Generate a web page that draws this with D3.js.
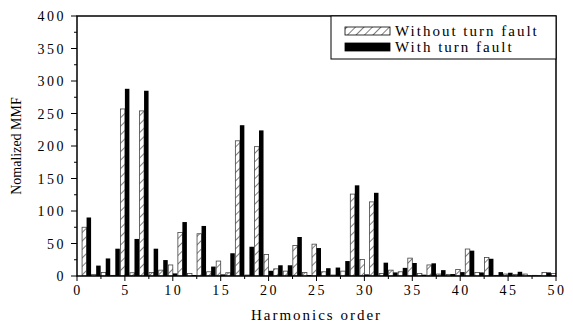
<!DOCTYPE html>
<html>
<head>
<meta charset="utf-8">
<script src="https://cdn.jsdelivr.net/npm/d3@7"></script>
<style>
  body { margin: 0; background: #fff; }
</style>
</head>
<body>
<div id="chart"></div>
<script>
// Harmonic orders 1..50
const harmonics = d3.range(1, 51);

// Normalized MMF without turn fault (hatched)
const withoutFault = [
  75, 2.5, 5.5, 1, 257, 5, 254, 5.5, 9, 17,
  67, 4, 65, 6.5, 23, 5, 208, 1.5, 199, 33,
  11, 7.5, 47, 5.5, 49, 6.5, 1.5, 7.5, 126, 25.5,
  114, 4, 9, 6.5, 27.5, 4, 17, 3, 2.5, 10,
  41.5, 5.5, 28.5, 1, 3, 2.5, 3, 1, 5.5, 4
];

// Normalized MMF with turn fault (black)
const withFault = [
  90, 16, 27, 42, 288, 57, 285, 42, 24.5, 4,
  83, 1.5, 77, 14.5, 2.5, 35, 232, 45, 224, 8,
  16.5, 16.5, 60, 1.5, 43, 12, 13, 23, 139.5, 2.5,
  128, 20.5, 5.5, 12.5, 20, 2, 19.5, 9, 3, 6,
  39, 5.5, 26.5, 6, 5, 6.5, 1, 1, 5.5, 0
];

const xTicks = d3.range(0, 51, 5);
const yTicks = d3.range(0, 401, 50);
const seriesNames = ["Without turn fault", "With turn fault"];

const width = 573, height = 325;
const mLeft = 77, mRight = 556, mTop = 16, mBottom = 276;
const barW = 0.47;

const svg = d3.select("#chart").append("svg")
  .attr("width", width)
  .attr("height", height)
  .style("font-family", "'Liberation Serif', 'Times New Roman', Times, serif");

const defs = svg.append("defs");
const pat = defs.append("pattern")
  .attr("id", "hatch")
  .attr("patternUnits", "userSpaceOnUse")
  .attr("width", 6)
  .attr("height", 6)
  .attr("patternTransform", "rotate(45)");
pat.append("rect").attr("width", 6).attr("height", 6).attr("fill", "#fff");
pat.append("line")
  .attr("x1", 0).attr("y1", 0).attr("x2", 0).attr("y2", 6)
  .attr("stroke", "#000").attr("stroke-width", 1);

defs.append("clipPath").attr("id", "plotClip")
  .append("rect")
  .attr("x", mLeft).attr("y", mTop)
  .attr("width", mRight - mLeft).attr("height", mBottom - mTop);

const x = d3.scaleLinear().domain([0, 50]).range([mLeft, mRight]);
const y = d3.scaleLinear().domain([0, 400]).range([mBottom, mTop]);

const data = harmonics.map((h, i) => ({ h, a: withoutFault[i], b: withFault[i] }));

// Bars
const bars = svg.append("g").attr("clip-path", "url(#plotClip)");
bars.selectAll("rect.a")
  .data(data)
  .join("rect")
  .attr("class", "a")
  .attr("x", d => x(d.h - barW))
  .attr("width", d => x(d.h) - x(d.h - barW))
  .attr("y", d => y(d.a))
  .attr("height", d => y(0) - y(d.a))
  .attr("fill", "url(#hatch)")
  .attr("stroke", "#444")
  .attr("stroke-width", 0.8);

bars.selectAll("rect.b")
  .data(data)
  .join("rect")
  .attr("class", "b")
  .attr("x", d => x(d.h))
  .attr("width", d => x(d.h + barW) - x(d.h))
  .attr("y", d => y(d.b))
  .attr("height", d => y(0) - y(d.b))
  .attr("fill", "#000");

// Axes
const xAxis = svg.append("g").attr("transform", `translate(0,${mBottom})`);
xAxis.selectAll("line.minor")
  .data(d3.range(2.5, 50, 5))
  .join("line")
  .attr("class", "minor")
  .attr("x1", d => x(d)).attr("x2", d => x(d))
  .attr("y1", 0).attr("y2", 3)
  .attr("stroke", "#000");
xAxis.selectAll("line.major")
  .data(xTicks)
  .join("line")
  .attr("class", "major")
  .attr("x1", d => x(d)).attr("x2", d => x(d))
  .attr("y1", 0).attr("y2", 5)
  .attr("stroke", "#000");
xAxis.selectAll("text.lbl")
  .data(xTicks)
  .join("text")
  .attr("class", "lbl")
  .attr("x", d => x(d) + 1)
  .attr("y", 19)
  .attr("text-anchor", "middle")
  .attr("font-size", 14)
  .attr("letter-spacing", 2.5)
  .text(d => d);

const yAxis = svg.append("g");
yAxis.selectAll("line.minor")
  .data(d3.range(25, 400, 50))
  .join("line")
  .attr("class", "minor")
  .attr("x1", mLeft - 3).attr("x2", mLeft)
  .attr("y1", d => y(d)).attr("y2", d => y(d))
  .attr("stroke", "#000");
yAxis.selectAll("line.major")
  .data(yTicks)
  .join("line")
  .attr("class", "major")
  .attr("x1", mLeft - 6).attr("x2", mLeft)
  .attr("y1", d => y(d)).attr("y2", d => y(d))
  .attr("stroke", "#000");
yAxis.selectAll("text")
  .data(yTicks)
  .join("text")
  .attr("x", mLeft - 11)
  .attr("y", d => y(d) + 5)
  .attr("text-anchor", "end")
  .attr("font-size", 14)
  .attr("letter-spacing", 2.5)
  .text(d => d);

// Frame
svg.append("rect")
  .attr("x", mLeft).attr("y", mTop)
  .attr("width", mRight - mLeft).attr("height", mBottom - mTop)
  .attr("fill", "none")
  .attr("stroke", "#000")
  .attr("stroke-width", 1.5);

// Axis titles
svg.append("text")
  .attr("transform", `translate(21,${(mTop + mBottom) / 2}) rotate(-90)`)
  .attr("text-anchor", "middle")
  .attr("font-size", 14)
  .text("Nomalized MMF");

svg.append("text")
  .attr("x", (mLeft + mRight) / 2)
  .attr("y", 320)
  .attr("text-anchor", "middle")
  .attr("font-size", 15)
  .attr("letter-spacing", 2)
  .text("Harmonics order");

// Legend
const lg = svg.append("g");
lg.append("rect")
  .attr("x", 331).attr("y", mTop)
  .attr("width", mRight - 331).attr("height", 43)
  .attr("fill", "#fff")
  .attr("stroke", "#000")
  .attr("stroke-width", 1);
const legendRows = seriesNames.map((name, i) => ({ name, i }));
lg.selectAll("rect.sw")
  .data(legendRows)
  .join("rect")
  .attr("class", "sw")
  .attr("x", 345)
  .attr("y", d => 27 + d.i * 16)
  .attr("width", 45)
  .attr("height", 8)
  .attr("fill", d => d.i === 0 ? "url(#hatch)" : "#000")
  .attr("stroke", "#000")
  .attr("stroke-width", 0.8);
lg.selectAll("text")
  .data(legendRows)
  .join("text")
  .attr("x", 395)
  .attr("y", d => 36 + d.i * 16)
  .attr("font-size", 15)
  .attr("letter-spacing", 2)
  .text(d => d.name);
</script>
</body>
</html>
